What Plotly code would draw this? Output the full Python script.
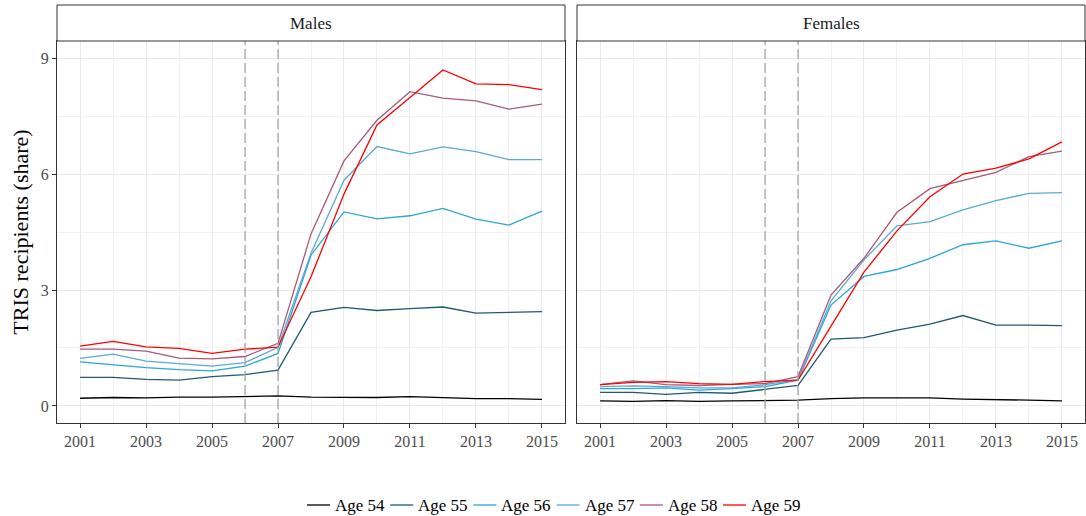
import plotly.graph_objects as go
from plotly.subplots import make_subplots

years = list(range(2001, 2016))
panels = ["Males", "Females"]
ages = ["Age 54", "Age 55", "Age 56", "Age 57", "Age 58", "Age 59"]
colors = ["#000000", "#1f5a70", "#2ba6d6", "#5aaad4", "#a85a78", "#ff0000"]

males_54 = [0.20, 0.22, 0.21, 0.23, 0.23, 0.24, 0.26, 0.23, 0.23, 0.22, 0.24, 0.22, 0.19, 0.19, 0.17]
males_55 = [0.74, 0.74, 0.69, 0.67, 0.76, 0.81, 0.93, 2.42, 2.55, 2.47, 2.52, 2.56, 2.40, 2.42, 2.44]
males_56 = [1.14, 1.07, 0.99, 0.94, 0.91, 1.03, 1.36, 3.90, 5.02, 4.84, 4.92, 5.11, 4.83, 4.68, 5.04]
males_57 = [1.23, 1.34, 1.16, 1.09, 1.03, 1.12, 1.52, 3.95, 5.84, 6.71, 6.52, 6.70, 6.58, 6.37, 6.37]
males_58 = [1.47, 1.47, 1.42, 1.24, 1.22, 1.28, 1.62, 4.45, 6.34, 7.39, 8.13, 7.96, 7.89, 7.68, 7.81]
males_59 = [1.55, 1.67, 1.53, 1.49, 1.36, 1.47, 1.52, 3.34, 5.48, 7.27, 7.98, 8.69, 8.33, 8.31, 8.18]

females_54 = [0.13, 0.12, 0.14, 0.12, 0.13, 0.14, 0.15, 0.19, 0.21, 0.21, 0.21, 0.18, 0.17, 0.15, 0.13]
females_55 = [0.35, 0.35, 0.30, 0.35, 0.33, 0.43, 0.53, 1.73, 1.77, 1.96, 2.12, 2.34, 2.09, 2.09, 2.08]
females_56 = [0.45, 0.45, 0.47, 0.41, 0.45, 0.50, 0.67, 2.61, 3.35, 3.53, 3.82, 4.17, 4.27, 4.08, 4.27]
females_57 = [0.50, 0.52, 0.50, 0.47, 0.47, 0.55, 0.68, 2.72, 3.78, 4.66, 4.77, 5.07, 5.31, 5.50, 5.52]
females_58 = [0.55, 0.65, 0.55, 0.53, 0.56, 0.58, 0.76, 2.87, 3.82, 5.01, 5.62, 5.83, 6.04, 6.45, 6.59]
females_59 = [0.55, 0.61, 0.63, 0.58, 0.56, 0.63, 0.67, 2.05, 3.46, 4.53, 5.41, 6.00, 6.15, 6.39, 6.83]

series = {
    "Males": [males_54, males_55, males_56, males_57, males_58, males_59],
    "Females": [females_54, females_55, females_56, females_57, females_58, females_59],
}
reform_years = [2006, 2007]

FONT = "Liberation Serif"
W, H = 1086, 516
L, R, T, B = 57, 1, 41, 93
PW, PH = W - L - R, H - T - B

fig = make_subplots(rows=1, cols=2, shared_yaxes=True, horizontal_spacing=12 / PW)

for c, panel in enumerate(panels, start=1):
    for i, age in enumerate(ages):
        fig.add_trace(
            go.Scatter(
                x=years, y=series[panel][i], mode="lines", name=age,
                line=dict(color=colors[i], width=1.3),
                showlegend=False,
            ),
            row=1, col=c,
        )
    for ry in reform_years:
        fig.add_vline(x=ry, line=dict(color="#a6a6a6", width=1.3, dash="10px,4px"), row=1, col=c)

axis_common = dict(
    showline=True, linecolor="#333333", linewidth=1, mirror=True,
    ticklen=4, tickcolor="#333333", automargin=False,
    gridcolor="#ebebeb", gridwidth=1, zeroline=False,
    tickfont=dict(family=FONT, size=16, color="#4d4d4d"),
)
for c in (1, 2):
    fig.update_xaxes(
        range=[2000.3, 2015.7], tick0=2001, dtick=2, ticks="outside",
        minor=dict(dtick=1, tick0=2001, showgrid=True, gridcolor="#f2f2f2", gridwidth=1),
        row=1, col=c, **axis_common,
    )
    fig.update_yaxes(
        range=[-0.44, 9.44], tick0=0, dtick=3,
        ticks="outside" if c == 1 else "", showticklabels=(c == 1),
        minor=dict(dtick=1.5, tick0=0, showgrid=True, gridcolor="#f2f2f2", gridwidth=1),
        row=1, col=c, **axis_common,
    )
fig.update_yaxes(title=dict(text="TRIS recipients (share)",
                            font=dict(family=FONT, size=22, color="#000000"), standoff=6),
                 row=1, col=1)

# facet strips
strip_h = 36 / PH
for c, panel in enumerate(panels, start=1):
    dom = fig.layout["xaxis" if c == 1 else "xaxis2"].domain
    fig.add_shape(type="rect", xref="paper", yref="paper",
                  x0=dom[0], x1=dom[1], y0=1, y1=1 + strip_h,
                  line=dict(color="#333333", width=1), fillcolor="white")
    fig.add_annotation(text=panel, xref="paper", yref="paper",
                       x=(dom[0] + dom[1]) / 2, y=1 + strip_h / 2,
                       xanchor="center", yanchor="middle",
                       showarrow=False, font=dict(family=FONT, size=17, color="#1a1a1a"))

# legend row along the bottom
leg_y = -(505 - (T + PH)) / PH
leg_x0 = (307 - L) / PW
leg_step = 83.2 / PW
key_len = 23 / PW
for i, age in enumerate(ages):
    x0 = leg_x0 + i * leg_step
    fig.add_shape(type="line", xref="paper", yref="paper",
                  x0=x0, x1=x0 + key_len, y0=leg_y, y1=leg_y,
                  line=dict(color=colors[i], width=1.3))
    fig.add_annotation(text=age, xref="paper", yref="paper",
                       x=x0 + key_len + 3 / PW, y=leg_y, xanchor="left", yanchor="middle",
                       showarrow=False, font=dict(family=FONT, size=17, color="#000000"))

fig.update_layout(
    width=W, height=H,
    margin=dict(l=L, r=R, t=T, b=B),
    paper_bgcolor="white", plot_bgcolor="white",
    font=dict(family=FONT, size=15, color="#000000"),
    showlegend=False,
)

fig.write_html("out.html")
